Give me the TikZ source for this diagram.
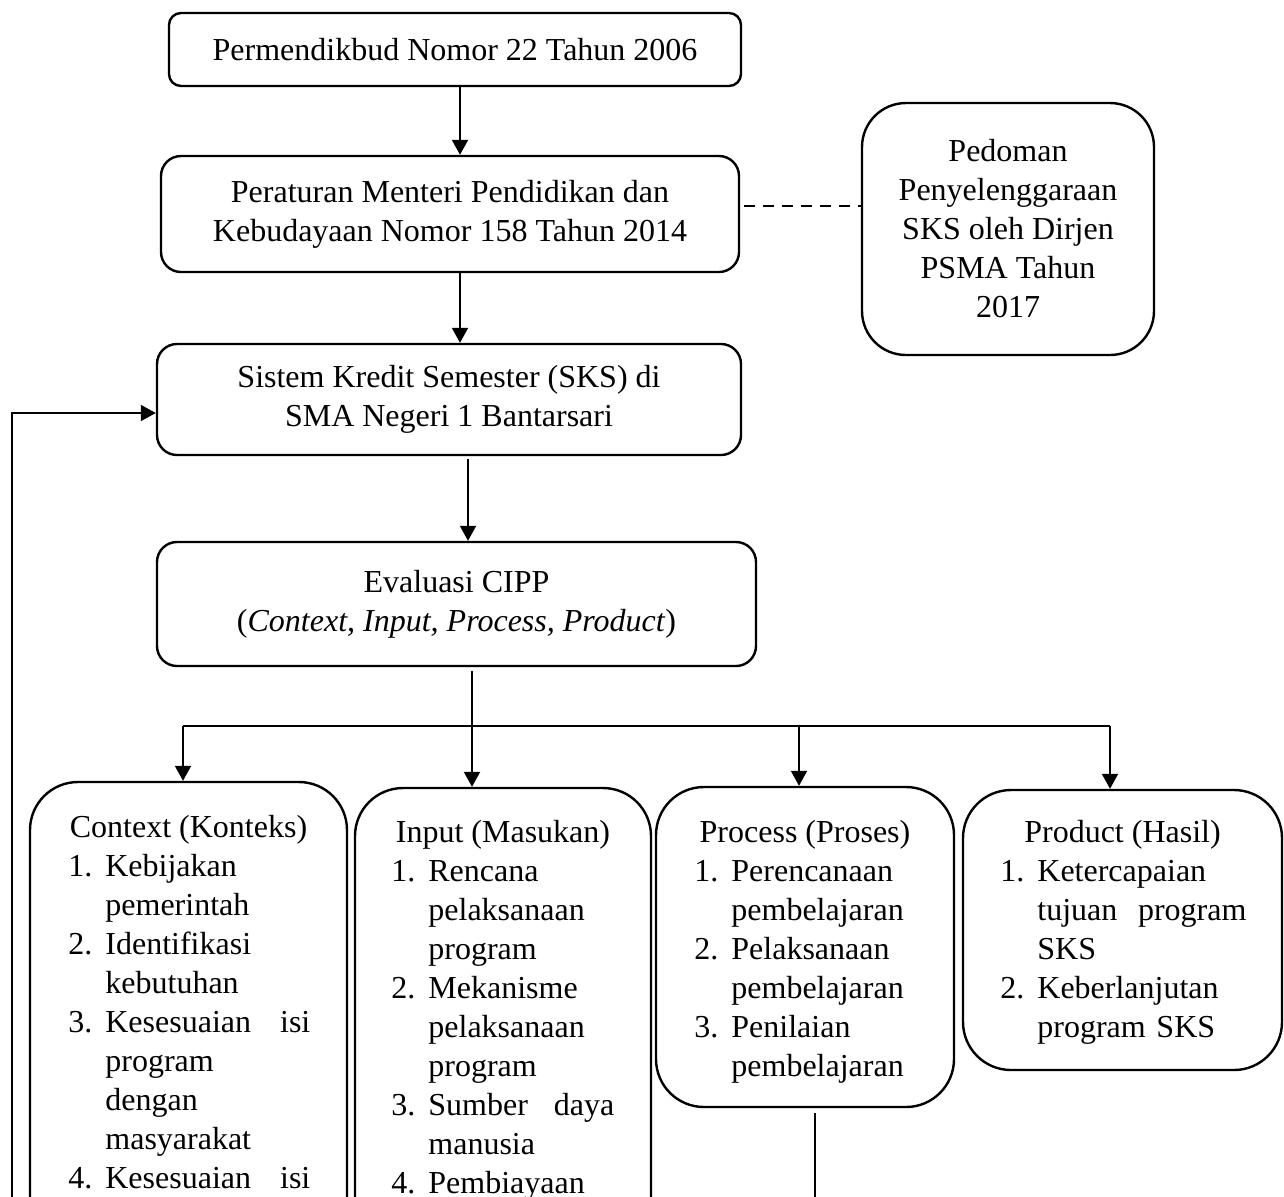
\documentclass[tikz,border=0pt]{standalone}
\usepackage{fontspec}
\setmainfont{Liberation Serif}
\usetikzlibrary{arrows.meta}
\newcommand{\itemnum}[1]{\makebox[18.5pt][l]{#1}}
\newcommand{\itemind}{\hspace*{18.5pt}}
\begin{document}
\begin{tikzpicture}[x=0.5pt,y=-0.5pt,
  box/.style={draw, line width=1.2pt, rounded corners=#1, inner sep=0pt, align=center,
    font=\fontsize{16}{19.5}\selectfont},
  box/.default=10pt,
  ttl/.style={anchor=base, inner sep=0pt, font=\fontsize{16}{19.5}\selectfont},
  lst/.style={anchor=base west, inner sep=0pt, align=left, text width=#1,
    font=\fontsize{16}{19.5}\selectfont},
  arr/.style={line width=1pt, -{Triangle[length=7.5pt,width=8pt]}},
  bus/.style={line width=0.6pt},
  fback/.style={line width=0.8pt, -{Triangle[length=7.5pt,width=8pt]}},
  dashlink/.style={line width=1pt, dash pattern=on 5.5pt off 4pt}
]
\useasboundingbox (0,0) rectangle (1284,1196);
\clip (0,0) rectangle (1284,1196);

% main chain
\node[box=6pt, minimum width=286pt, minimum height=36.5pt] (pm) at (455,49.5)
  {Permendikbud Nomor 22 Tahun 2006};
\node[box=10pt, minimum width=289pt, minimum height=58pt] (reg) at (450,214)
  {Peraturan Menteri Pendidikan dan\\Kebudayaan Nomor 158 Tahun 2014};
\node[box=22pt, minimum width=146pt, minimum height=126pt] (ped) at (1008,229)
  {Pedoman\\Penyelenggaraan\\SKS oleh Dirjen\\PSMA Tahun\\2017};
\node[box=10pt, minimum width=292pt, minimum height=55.5pt] (sks) at (449,399.5)
  {Sistem Kredit Semester (SKS) di\\SMA Negeri 1 Bantarsari};
\node[box=10pt, minimum width=299.5pt, minimum height=62pt] (eval) at (456.5,604)
  {Evaluasi CIPP\\(\textit{Context, Input, Process, Product})};

% CIPP boxes
\node[box=24pt, minimum width=158.5pt, minimum height=259pt] (ctx) at (188.5,1041) {};
\node[box=24pt, minimum width=148pt, minimum height=256pt] (inp) at (503,1044) {};
\node[box=24pt, minimum width=149pt, minimum height=160pt] (proc) at (805,947) {};
\node[box=24pt, minimum width=159.5pt, minimum height=140pt] (prod) at (1122.5,930) {};

\node[ttl] (ctxt) at (188.5,837) {Context (Konteks)};
\node[ttl] (inpt) at (503,842) {Input (Masukan)};
\node[ttl] (proct) at (805,842) {Process (Proses)};
\node[ttl] (prodt) at (1122.5,842) {Product (Hasil)};

\node[lst=121pt] (ctxl) at (68,876) {\itemnum{1.}Kebijakan\\\itemind pemerintah\\\itemnum{2.}Identifikasi\\\itemind kebutuhan\\\itemnum{3.}Kesesuaian\hfill isi\\\itemind program\\\itemind dengan\\\itemind masyarakat\\\itemnum{4.}Kesesuaian\hfill isi};
\node[lst=111.5pt] (inpl) at (391,881) {\itemnum{1.}Rencana\\\itemind pelaksanaan\\\itemind program\\\itemnum{2.}Mekanisme\\\itemind pelaksanaan\\\itemind program\\\itemnum{3.}Sumber\hfill daya\\\itemind manusia\\\itemnum{4.}Pembiayaan};
\node[lst=120pt] (procl) at (694,881) {\itemnum{1.}Perencanaan\\\itemind pembelajaran\\\itemnum{2.}Pelaksanaan\\\itemind pembelajaran\\\itemnum{3.}Penilaian\\\itemind pembelajaran};
\node[lst=123pt] (prodl) at (1000,881) {\itemnum{1.}Ketercapaian\\\itemind tujuan\hfill program\\\itemind SKS\\\itemnum{2.}Keberlanjutan\\\itemind \mbox{program SKS}};

% helper coordinates
\coordinate (c1) at (460,0);
\coordinate (c2) at (468,0);
\coordinate (trunk) at (472,726);
\coordinate (busL) at (183,726);
\coordinate (busP) at (799,726);
\coordinate (busR) at (1110,726);
\coordinate (dashrow) at (0,206);
\coordinate (fbrow) at (0,413);
\coordinate (fbot) at (12,1300);
\coordinate (pbot) at (815,1300);

% connectors
\draw[arr] (c1 |- pm.south) -- (c1 |- reg.north);
\draw[arr] (c1 |- reg.south) -- (c1 |- sks.north);
\draw[arr, shorten <=1.5pt] (c2 |- sks.south) -- (c2 |- eval.north);
\draw[dashlink, shorten <=2pt] (reg.east |- dashrow) -- (ped.west |- dashrow);
\draw[arr, shorten <=2pt] (trunk |- eval.south) -- (trunk |- inp.north);
\draw[bus] (busL) -- (busR);
\draw[arr] (busL) -- (busL |- ctx.north);
\draw[arr] (busP) -- (busP |- proc.north);
\draw[arr] (busR) -- (busR |- prod.north);
\draw[fback] (fbot) |- (sks.west |- fbrow);
\draw[bus, shorten <=2.5pt] (pbot |- proc.south) -- (pbot);
\end{tikzpicture}
\end{document}
